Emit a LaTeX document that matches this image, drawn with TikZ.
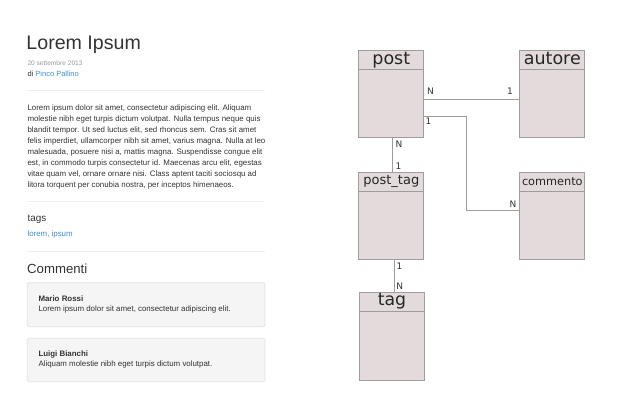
\documentclass[tikz,border=0pt]{standalone}
\usepackage{fontspec}
\setmainfont{Liberation Sans}
\newfontfamily\dejavu{DejaVu Sans}
\usetikzlibrary{calc}

\definecolor{testo}{HTML}{333333}
\definecolor{grigio}{HTML}{999999}
\definecolor{link}{HTML}{428BCA}
\definecolor{rigacol}{HTML}{EEEEEE}
\definecolor{pozzofill}{HTML}{F5F5F5}
\definecolor{pozzobordo}{HTML}{E3E3E3}
\definecolor{entfill}{RGB}{227,219,219}
\definecolor{entbordo}{HTML}{A09C9C}

\begin{document}
\begin{tikzpicture}[x=1pt,y=-1pt,
    entita/.style={draw=entbordo, fill=entfill, line width=1pt, minimum width=65pt, minimum height=87pt, inner sep=0pt, anchor=north west},
    intest/.style={draw=entbordo, line width=1pt, minimum width=65pt, minimum height=18.5pt, inner sep=0pt, anchor=north},
    nome/.style={anchor=base, inner sep=0pt, text=black!85},
    card/.style={font=\dejavu\fontsize{9}{9}\selectfont, text=testo, inner sep=0pt},
    rel/.style={draw=entbordo, line width=1pt},
    testino/.style={anchor=base west, inner sep=0pt, text=testo, font=\fontsize{7.9}{11}\selectfont},
    separa/.style={draw=rigacol, line width=0.8pt},
    pozzo/.style={draw=pozzobordo, fill=pozzofill, rounded corners=1.5pt, line width=0.8pt}]
  \useasboundingbox (0,0) rectangle (640,400);

  % pagina del post
  \node[anchor=base west, inner sep=0pt, text=testo, font=\fontsize{19.6}{20}\selectfont] (titolo) at (26.3,49.3) {Lorem Ipsum};
  \node[testino, text=grigio, font=\fontsize{6.6}{7}\selectfont] (data) at (27.3,65) {20 settembre 2013};
  \node[testino, font=\fontsize{7.5}{8}\selectfont] (firma) at (27.3,76) {di \textcolor{link}{Pinco Pallino}};
  \draw[separa] (27,90.7) -- (265,90.7);

  \foreach \riga [count=\i] in {
      {Lorem ipsum dolor sit amet, consectetur adipiscing elit. Aliquam},
      {molestie nibh eget turpis dictum volutpat. Nulla tempus neque quis},
      {blandit tempor. Ut sed luctus elit, sed rhoncus sem. Cras sit amet},
      {felis imperdiet, ullamcorper nibh sit amet, varius magna. Nulla at leo},
      {malesuada, posuere nisi a, mattis magna. Suspendisse congue elit},
      {est, in commodo turpis consectetur id. Maecenas arcu elit, egestas},
      {vitae quam vel, ornare ornare nisi. Class aptent taciti sociosqu ad},
      {litora torquent per conubia nostra, per inceptos himenaeos.}}
    \node[testino] (par-\i) at (27.3,{110.5+11*(\i-1)}) {\riga};

  \draw[separa] (27,201.7) -- (265,201.7);
  \node[testino, font=\fontsize{9.9}{10}\selectfont] (tags) at (27.3,221.7) {tags};
  \node[testino, text=link] (tagelenco) at (27.3,236.7) {lorem, ipsum};
  \draw[separa] (27,251.7) -- (265,251.7);

  % commenti
  \node[testino, font=\fontsize{13.2}{14}\selectfont] (commenti) at (27,273.3) {Commenti};
  \draw[pozzo] (27.3,282.7) rectangle (265,326.7);
  \node[testino] (autore1) at (38.3,301) {\textbf{Mario Rossi}};
  \node[testino] (testo1) at (38.3,311) {Lorem ipsum dolor sit amet, consectetur adipiscing elit.};
  \draw[pozzo] (27.3,338.3) rectangle (265,381.7);
  \node[testino] (autore2) at (38.3,356.7) {\textbf{Luigi Bianchi}};
  \node[testino] (testo2) at (38.3,366.7) {Aliquam molestie nibh eget turpis dictum volutpat.};

  % schema delle tabelle
  \node[entita] (post) at (358.3,50) {};
  \node[entita] (autore) at (519.3,50) {};
  \node[entita] (posttag) at (358.3,171.7) {};
  \node[entita] (commento) at (519.3,172.3) {};
  \node[entita, minimum height=88pt] (tag) at (359,292.3) {};

  \node[intest] (post-h) at (post.north) {};
  \node[intest] (autore-h) at (autore.north) {};
  \node[intest, minimum height=19pt] (posttag-h) at (posttag.north) {};
  \node[intest, minimum height=19pt] (commento-h) at (commento.north) {};
  \node[intest] (tag-h) at (tag.north) {};

  \node[nome, font=\dejavu\fontsize{17.5}{18}\selectfont] (post-n) at ($(post.north)+(0,14.5)$) {post};
  \node[nome, font=\dejavu\fontsize{17.5}{18}\selectfont] (autore-n) at ($(autore.north)+(0,14.5)$) {autore};
  \node[nome, font=\dejavu\fontsize{13}{13}\selectfont] (posttag-n) at ($(posttag.north)+(0,12.5)$) {post\_tag};
  \node[nome, font=\dejavu\fontsize{11.3}{12}\selectfont] (commento-n) at ($(commento.north)+(0,12.7)$) {commento};
  \node[nome, font=\dejavu\fontsize{17.3}{18}\selectfont] (tag-n) at ($(tag.north)+(0,13.4)$) {tag};

  % relazioni
  \draw[rel] ($(post.east)+(0,5.5)$) -- ($(autore.west)+(0,5.5)$);
  \draw[rel] ($(post.east)+(0,22.5)$) -- ++(42,0) |- ($(commento.west)+(0,-5.5)$);
  \draw[rel] ([xshift=1.2pt]post.south) -- ([xshift=1.2pt]post.south |- posttag.north);
  \draw[rel] ([xshift=2pt]tag.north) -- ([xshift=2pt]tag.north |- posttag.south);

  \node[card] (c1) at (430.5,91.5) {N};
  \node[card] (c2) at (510,91.5) {1};
  \node[card] (c3) at (428.5,121) {1};
  \node[card] (c4) at (513,204.7) {N};
  \node[card] (c5) at (399,144.7) {N};
  \node[card] (c6) at (398.5,166) {1};
  \node[card] (c7) at (399.5,266) {1};
  \node[card] (c8) at (399.7,286) {N};
\end{tikzpicture}
\end{document}
